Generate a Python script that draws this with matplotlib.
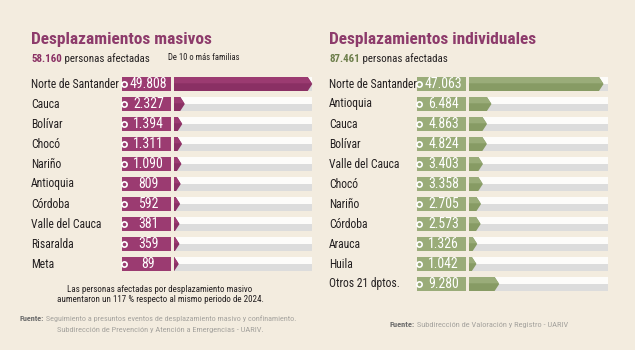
import matplotlib
matplotlib.use('Agg')
import matplotlib.pyplot as plt
from matplotlib import font_manager
from matplotlib.patches import Polygon, Rectangle
import matplotlib.transforms as mtransforms

# ---------------- data ----------------
mas_labels = ['Norte de Santander', 'Cauca', 'Bolívar', 'Chocó', 'Nariño', 'Antioquia',
              'Córdoba', 'Valle del Cauca', 'Risaralda', 'Meta']
mas_values = [49808, 2327, 1394, 1311, 1090, 809, 592, 381, 359, 89]
mas_total = '58.160'

ind_labels = ['Norte de Santander', 'Antioquia', 'Cauca', 'Bolívar', 'Valle del Cauca', 'Chocó',
              'Nariño', 'Córdoba', 'Arauca', 'Huila', 'Otros 21 dptos.']
ind_values = [47063, 6484, 4863, 4824, 3403, 3358, 2705, 2573, 1326, 1042, 9280]
ind_total = '87.461'

# ---------------- style ----------------
W, H = 635, 350
BG = '#f3ecdf'
MAG_L, MAG_D = '#9b3b71', '#8a3064'
GRN_L, GRN_D = '#9aac79', '#879b64'
TITLE_C = '#8d3b6b'
TXT = '#231f20'

names = {f.name for f in font_manager.fontManager.ttflist}
FONT = 'DejaVu Sans'
for cand in ['Roboto Condensed', 'Liberation Sans Narrow', 'Open Sans Condensed', 'Liberation Sans']:
    if cand in names:
        FONT = cand
        break
plt.rcParams['font.family'] = [FONT, 'DejaVu Sans']

fig = plt.figure(figsize=(W / 100, H / 100), dpi=100, facecolor=BG)
axo = fig.add_axes([0, 0, 1, 1])
axo.set_xlim(0, W)
axo.set_ylim(H, 0)
axo.axis('off')


def fmt(v):
    return f'{v:,}'.replace(',', '.')


def panel(labels, values, light, dark, label_x, box_x0, box_x1, trk_x0, trk_x1, body_ratio):
    n = len(values)
    top = 74
    ax = fig.add_axes([trk_x0 / W, 1 - (top + 20 * n) / H, (trk_x1 - trk_x0) / W, 20 * n / H])
    ax.set_facecolor('none')
    xmax = values[0] / body_ratio
    ax.set_xlim(0, xmax)
    ax.set_ylim(n - 0.5, -0.5)
    ax.axis('off')
    tip = 0.033 * xmax
    h = 0.70
    blend = mtransforms.blended_transform_factory(fig.transFigure, ax.transData)
    for i, v in enumerate(values):
        ax.add_patch(Rectangle((0, i - h / 2), xmax, h / 2, fc='#fdfcfa', ec='none'))
        ax.add_patch(Rectangle((0, i), xmax, h / 2, fc='#dcdcdc', ec='none'))
        ax.add_patch(Polygon([(0, i - h / 2), (v, i - h / 2), (v + tip, i), (v, i + h / 2), (0, i + h / 2)],
                             closed=True, fc=dark, ec='none', clip_on=False))
        ax.add_patch(Polygon([(0, i - h / 2), (v, i - h / 2), (v + tip * 0.9, i - h * 0.05),
                              (0, i - h * 0.05)],
                             closed=True, fc=light, ec='none', clip_on=False))
        ax.add_patch(Rectangle((box_x0 / W, i - h / 2), (box_x1 - box_x0) / W, h, transform=blend,
                               fc=light, ec='none', clip_on=False))
        ax.plot([(box_x0 + 1.5) / W], [i], transform=blend, marker='o', ms=3.8, mfc=light,
                mec='white', mew=1.2, clip_on=False)
        ax.text((box_x0 + box_x1) / 2 / W + 2 / W, i, fmt(v), transform=blend, ha='center',
                va='center', color='white', fontsize=9.9)
        ax.text(label_x / W, i, labels[i], transform=blend, ha='left', va='center',
                color=TXT, fontsize=8.4)
    return ax


panel(mas_labels, mas_values, MAG_L, MAG_D, 31, 122, 171, 174, 312, 0.969)
panel(ind_labels, ind_values, GRN_L, GRN_D, 329, 417, 466, 469, 608, 0.935)

# titles
axo.text(31, 44, 'Desplazamientos masivos', color=TITLE_C, fontsize=12.5, fontweight='bold',
         ha='left', va='baseline')
axo.text(329, 44, 'Desplazamientos individuales', color=TITLE_C, fontsize=12.5, fontweight='bold',
         ha='left', va='baseline')

# subtitles
t1 = axo.text(31, 62, mas_total, color=MAG_D, fontsize=7.8, fontweight='bold', ha='left', va='baseline')
axo.annotate(' personas afectadas', xy=(1, 0), xycoords=t1, ha='left', va='bottom',
             color=TXT, fontsize=7.8)
t2 = axo.text(329, 62, ind_total, color='#6e7f4c', fontsize=7.8, fontweight='bold', ha='left',
              va='baseline')
axo.annotate(' personas afectadas', xy=(1, 0), xycoords=t2, ha='left', va='bottom',
             color=TXT, fontsize=7.8)
axo.text(168, 57, 'De 10 o más familias', color=TXT, fontsize=6.2, ha='left', va='center')

# notes
axo.text(160, 289, 'Las personas afectadas por desplazamiento masivo', color=TXT, fontsize=6.5,
         ha='center', va='center')
axo.text(160, 299, 'aumentaron un 117 % respecto al mismo periodo de 2024.', color=TXT, fontsize=6.5,
         ha='center', va='center')

f1 = axo.text(20, 321, 'Fuente:', color='#6b6b6b', fontsize=5.9, fontweight='bold', ha='left',
              va='baseline')
axo.annotate(' Seguimiento a presuntos eventos de desplazamiento masivo y confinamiento.', xy=(1, 0),
             xycoords=f1, ha='left', va='bottom', color='#a5a39e', fontsize=5.9)
axo.text(160, 330, 'Subdirección de Prevención y Atención a Emergencias - UARIV.', color='#a5a39e',
         fontsize=6.0, ha='center', va='center')

f2 = axo.text(390, 327, 'Fuente:', color='#6b6b6b', fontsize=6.0, fontweight='bold', ha='left',
              va='baseline')
axo.annotate(' Subdirección de Valoración y Registro - UARIV', xy=(1, 0), xycoords=f2, ha='left',
             va='bottom', color='#a5a39e', fontsize=6.0)

fig.savefig('out.png', dpi=100, facecolor=BG)
